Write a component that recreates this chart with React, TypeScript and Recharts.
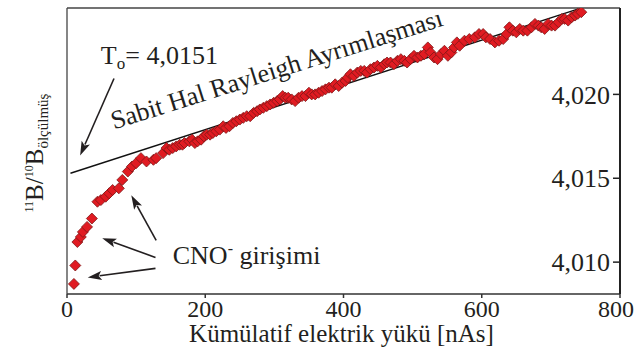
import React from 'react';
import { ScatterChart, Scatter, XAxis, YAxis, ReferenceLine, ReferenceDot } from 'recharts';

const chargeNAs = [
  10, 12, 15, 20, 23, 29, 36, 44, 49, 56, 61, 66, 75, 80, 88, 94, 100, 107, 115, 125, 129,
  139, 144, 148, 153, 158, 163, 167, 170, 177, 181, 185, 189, 194, 198, 202, 207, 211, 216,
  221, 226, 230, 235, 240, 245, 250, 255, 260, 265, 270, 275, 279, 284, 289, 294, 299, 304,
  308, 312, 316, 320, 325, 330, 335, 340, 345, 350, 354, 359, 364, 369, 374, 379, 383, 388,
  393, 398, 403, 406, 410, 415, 420, 425, 430, 434, 439, 444, 449, 454, 459, 463, 468, 473,
  478, 483, 488, 492, 497, 502, 507, 512, 517, 522, 526, 531, 536, 541, 546, 551, 556, 560,
  564, 568, 575, 582, 590, 596, 602, 606, 612, 619, 625, 631, 636, 640, 645, 650, 655, 660,
  666, 672, 677, 682, 686, 691, 696, 701, 706, 711, 716, 720, 725, 730, 735, 739, 744,
];
const ratioMeasured = [
  4.0087, 4.0098, 4.0112, 4.0115, 4.0118, 4.0121, 4.0126, 4.0136, 4.0137, 4.0139, 4.0141,
  4.0143, 4.0144, 4.0149, 4.0154, 4.0157, 4.0159, 4.0162, 4.016, 4.0161, 4.0162,
  4.0165, 4.0168, 4.0167, 4.0168, 4.0169, 4.017, 4.017, 4.0171, 4.0172, 4.0173, 4.0171,
  4.0172, 4.0173, 4.0175, 4.0176, 4.0176, 4.0177, 4.0178, 4.0179, 4.0181, 4.018, 4.0181,
  4.0183, 4.0184, 4.0185, 4.0186, 4.0187, 4.0187, 4.0189, 4.019, 4.0191, 4.0192, 4.0193,
  4.0194, 4.0195, 4.0196, 4.0197, 4.0199, 4.0198, 4.0198, 4.0197, 4.0196, 4.0198, 4.0199,
  4.0199, 4.0201, 4.02, 4.02, 4.0201, 4.0202, 4.0203, 4.0204, 4.0204, 4.0206, 4.0205,
  4.0207, 4.0208, 4.021, 4.0212, 4.0211, 4.0213, 4.0214, 4.0214, 4.0213, 4.0215, 4.0216,
  4.0217, 4.0216, 4.0218, 4.0219, 4.0219, 4.0218, 4.022, 4.0221, 4.022, 4.0219, 4.0221,
  4.0223, 4.0222, 4.0223, 4.0224, 4.0228, 4.0225, 4.0222, 4.0221, 4.0224, 4.0226, 4.0223,
  4.0225, 4.0228, 4.0231, 4.0229, 4.0232, 4.0233, 4.0234, 4.0236, 4.0236, 4.0234, 4.0233,
  4.0231, 4.0232, 4.0233, 4.0236, 4.024, 4.0238, 4.0237, 4.0239, 4.0238, 4.0238, 4.024,
  4.0242, 4.0241, 4.024, 4.0239, 4.0242, 4.0241, 4.0241, 4.0243, 4.0245, 4.0245, 4.0244,
  4.0246, 4.0247, 4.0248, 4.0249,
];

// steady-state fit line
const fitCharge = [5, 740];
const fitRatio = [4.0153, 4.0251];

const xTicks = [0, 200, 400, 600, 800];
const yTicks = [4.01, 4.015, 4.02];
const xDomain = [0, 800];
const yDomain = [4.0081, 4.02515];

// annotation arrows: tail -> head, in data units
const arrowTail = [
  { x: 68, y: 4.02095 },
  { x: 129, y: 4.0113 },
  { x: 128, y: 4.01028 },
  { x: 128, y: 4.00963 },
];
const arrowHead = [
  { x: 19, y: 4.01636 },
  { x: 93, y: 4.01398 },
  { x: 51, y: 4.01142 },
  { x: 30, y: 4.00909 },
];

const points = chargeNAs.map((x, i) => ({ x, y: ratioMeasured[i] }));

const FONT = '"Liberation Serif", "Times New Roman", serif';
const INK = '#231f20';

const Diamond = (props: any) => {
  const { cx, cy } = props;
  const r = 5.5;
  return (
    <polygon
      points={`${cx},${cy - r} ${cx + r},${cy} ${cx},${cy + r} ${cx - r},${cy}`}
      fill="#e01b22"
      stroke="#7d1717"
      strokeWidth={0.8}
    />
  );
};

const Arrow = (props: any) => {
  const { x1, y1, x2, y2 } = props;
  const dx = x2 - x1;
  const dy = y2 - y1;
  const len = Math.sqrt(dx * dx + dy * dy);
  const ux = dx / len;
  const uy = dy / len;
  const hl = 14;
  const hw = 4.5;
  const bx = x2 - ux * hl;
  const by = y2 - uy * hl;
  return (
    <g>
      <line x1={x1} y1={y1} x2={bx + ux * 2} y2={by + uy * 2} stroke={INK} strokeWidth={1.6} />
      <polygon
        points={`${x2},${y2} ${bx - uy * hw},${by + ux * hw} ${bx + ux * 3},${by + uy * 3} ${bx + uy * hw},${by - ux * hw}`}
        fill={INK}
      />
    </g>
  );
};

const T0Text = (props: any) => (
  <text x={props.cx} y={props.cy} fontFamily={FONT} fontSize={26} fill={INK}>
    T<tspan fontSize={17} dy={5}>o</tspan>
    <tspan dy={-5}>= 4,0151</tspan>
  </text>
);

const FitText = (props: any) => (
  <text
    x={props.cx}
    y={props.cy}
    fontFamily={FONT}
    fontSize={26}
    fill={INK}
    transform={`rotate(-17.5 ${props.cx} ${props.cy})`}
  >
    Sabit Hal Rayleigh Ayrımlaşması
  </text>
);

const CnoText = (props: any) => (
  <text x={props.cx} y={props.cy} fontFamily={FONT} fontSize={26} fill={INK}>
    CNO<tspan fontSize={16} dy={-10}>-</tspan>
    <tspan dy={10}> girişimi</tspan>
  </text>
);

const XTitle = (props: any) => {
  const vb = props.viewBox || { x: 68, y: 294, width: 552 };
  return (
    <text x={vb.x + vb.width / 2 - 2} y={vb.y + 48} textAnchor="middle" fontFamily={FONT} fontSize={25} fill={INK}>
      Kümülatif elektrik yükü [nAs]
    </text>
  );
};

const YTitle = (props: any) => {
  const vb = props.viewBox || { x: 0, y: 8, width: 67, height: 286 };
  const x = vb.x + 43;
  const y = vb.y + vb.height / 2 + 2;
  return (
    <text x={x} y={y} textAnchor="middle" fontFamily={FONT} fill={INK} transform={`rotate(-90 ${x} ${y})`}>
      <tspan fontSize={12} dy={-10}>11</tspan>
      <tspan fontSize={25} dy={10}>B/</tspan>
      <tspan fontSize={12} dy={-10}>10</tspan>
      <tspan fontSize={25} dy={10}>B</tspan>
      <tspan fontSize={15} dy={5}>ölçülmüş</tspan>
    </text>
  );
};

export default function App() {
  return (
    <div style={{ position: 'absolute', left: 0, top: 0, width: 634, height: 347, background: '#fff' }}>
      <ScatterChart width={634} height={347} margin={{ top: 8, right: 14, bottom: 0, left: 0 }}>
        <XAxis
          type="number"
          dataKey="x"
          domain={xDomain}
          ticks={xTicks}
          allowDataOverflow
          height={53}
          tickSize={4}
          tickMargin={2}
          axisLine={{ stroke: '#333', strokeWidth: 1.5 }}
          tickLine={{ stroke: '#333', strokeWidth: 1.5 }}
          tick={{ fontSize: 24, fill: INK, fontFamily: FONT }}
          label={XTitle}
        />
        <YAxis
          yAxisId="frame"
          orientation="left"
          width={67}
          domain={[0, 1]}
          tick={false}
          tickLine={false}
          axisLine={{ stroke: '#444', strokeWidth: 1.3 }}
          label={YTitle}
        />
        <YAxis
          type="number"
          dataKey="y"
          orientation="right"
          mirror
          domain={yDomain}
          ticks={yTicks}
          allowDataOverflow
          tickSize={7}
          tickMargin={3}
          tickFormatter={(v: number) => v.toFixed(3).replace('.', ',')}
          axisLine={{ stroke: '#222', strokeWidth: 2 }}
          tickLine={{ stroke: '#222', strokeWidth: 1.5 }}
          tick={{ fontSize: 26, fill: INK, fontFamily: FONT }}
        />
        <ReferenceLine y={yDomain[1]} stroke="#444" strokeWidth={1.3} ifOverflow="visible" />
        <Scatter data={points} shape={Diamond} isAnimationActive={false} />
        <ReferenceLine
          segment={[
            { x: fitCharge[0], y: fitRatio[0] },
            { x: fitCharge[1], y: fitRatio[1] },
          ]}
          stroke="#111"
          strokeWidth={1.4}
          ifOverflow="visible"
        />
        {arrowTail.map((t, i) => (
          <ReferenceLine
            key={i}
            segment={[t, arrowHead[i]]}
            ifOverflow="visible"
            shape={Arrow}
          />
        ))}
        <ReferenceDot x={49} y={4.0218} r={0} ifOverflow="visible" shape={T0Text} />
        <ReferenceDot x={68} y={4.0179} r={0} ifOverflow="visible" shape={FitText} />
        <ReferenceDot x={153} y={4.0099} r={0} ifOverflow="visible" shape={CnoText} />
      </ScatterChart>
    </div>
  );
}
